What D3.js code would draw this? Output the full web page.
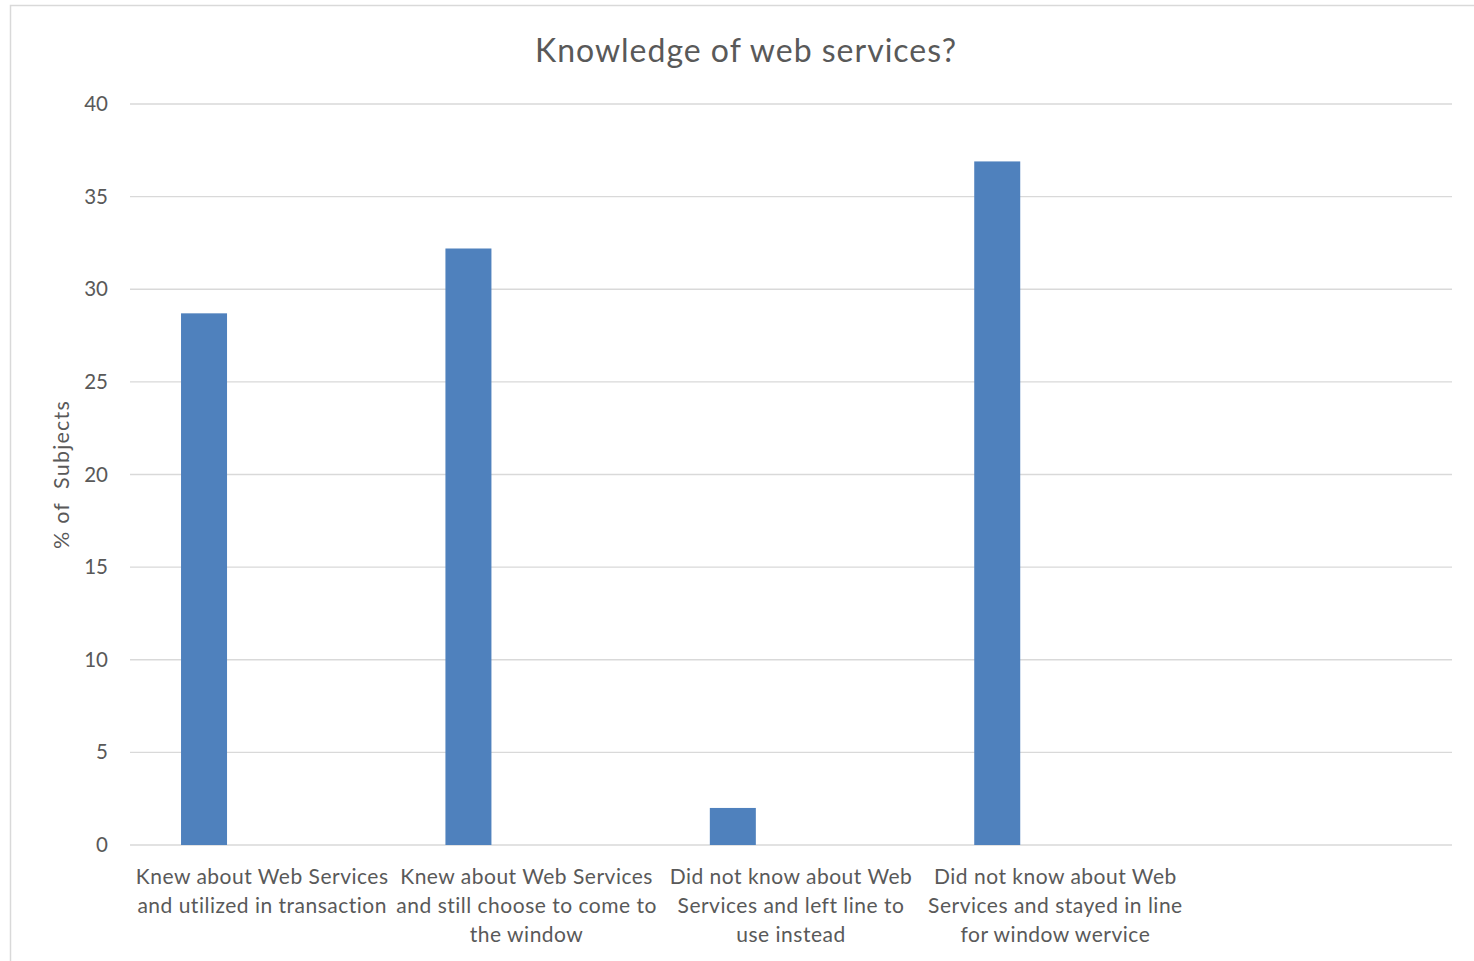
<!DOCTYPE html>
<html>
<head>
<meta charset="utf-8">
<script src="https://cdn.jsdelivr.net/npm/d3@7"></script>
<style>
  html, body { margin: 0; padding: 0; background: #fff; }
  svg { display: block; }
  text { font-family: "Lato", "Open Sans", sans-serif; fill: #595959; }
</style>
</head>
<body>
<svg id="chart" width="1474" height="961"></svg>
<script>
// Survey answers: one bar per category, the last slot is left empty
const categories = [
  ["Knew about Web Services", "and utilized in transaction"],
  ["Knew about Web Services", "and still choose to come to", "the window"],
  ["Did not know about Web", "Services and left line to", "use instead"],
  ["Did not know about Web", "Services and stayed in line", "for window wervice"],
  [""]
];
const values = [28.7, 32.2, 2.0, 36.9, null];
const yTicks = [0, 5, 10, 15, 20, 25, 30, 35, 40];
const title = "Knowledge of web services?";
const yTitle = "% of  Subjects";

const svg = d3.select("#chart");
const margin = { left: 130, right: 22, top: 104, bottom: 116 };
const W = 1474, H = 961;

// Chart frame
svg.append("rect")
  .attr("x", 10.5).attr("y", 5.5)
  .attr("width", W + 10).attr("height", H + 10)
  .attr("fill", "none").attr("stroke", "#d9d9d9").attr("stroke-width", 1.5);

const keys = categories.map((c, i) => i);
const x = d3.scaleBand().domain(keys).range([margin.left, W - margin.right]).padding(0);
const y = d3.scaleLinear().domain([0, 40]).range([H - margin.bottom, margin.top]);

// Horizontal gridlines
svg.append("g")
  .selectAll("line")
  .data(yTicks)
  .join("line")
  .attr("x1", margin.left).attr("x2", W - margin.right)
  .attr("y1", d => y(d)).attr("y2", d => y(d))
  .attr("stroke", "#d9d9d9").attr("stroke-width", 1.3);

// Y axis labels
const yAxis = d3.axisLeft(y).tickValues(yTicks).tickSize(0).tickPadding(22);
const gy = svg.append("g").attr("transform", `translate(${margin.left},0)`).call(yAxis);
gy.select(".domain").remove();
gy.selectAll("text")
  .style("font-family", '"Lato", "Open Sans", sans-serif')
  .style("font-size", "20.5px")
  .attr("fill", "#595959");

// Bars
const barOffset = 0.193, barWidth = 0.174;
svg.append("g")
  .selectAll("rect")
  .data(values.map((v, i) => ({ i, v })).filter(d => d.v != null))
  .join("rect")
  .attr("x", d => x(d.i) + x.bandwidth() * barOffset)
  .attr("width", x.bandwidth() * barWidth)
  .attr("y", d => y(d.v))
  .attr("height", d => y(0) - y(d.v))
  .attr("fill", "#4f81bd");

// Category labels
const lab = svg.append("g")
  .selectAll("text")
  .data(categories.map((lines, i) => ({ lines, i })))
  .join("text")
  .attr("text-anchor", "middle")
  .style("font-size", "21px")
  .style("letter-spacing", "0.5px");
lab.selectAll("tspan")
  .data(d => d.lines.map(l => ({ l, i: d.i })))
  .join("tspan")
  .attr("x", d => x(d.i) + x.bandwidth() / 2)
  .attr("y", (d, j) => y(0) + 39 + j * 29)
  .text(d => d.l);

// Title
svg.append("text")
  .attr("x", 746).attr("y", 62)
  .attr("text-anchor", "middle")
  .style("font-size", "32px")
  .style("letter-spacing", "1px")
  .text(title);

// Y axis title
svg.append("text")
  .attr("transform", `translate(69,${(y(0) + y(40)) / 2}) rotate(-90)`)
  .attr("text-anchor", "middle")
  .style("font-size", "21.5px")
  .style("letter-spacing", "1.2px")
  .style("white-space", "pre")
  .text(yTitle);
</script>
</body>
</html>
